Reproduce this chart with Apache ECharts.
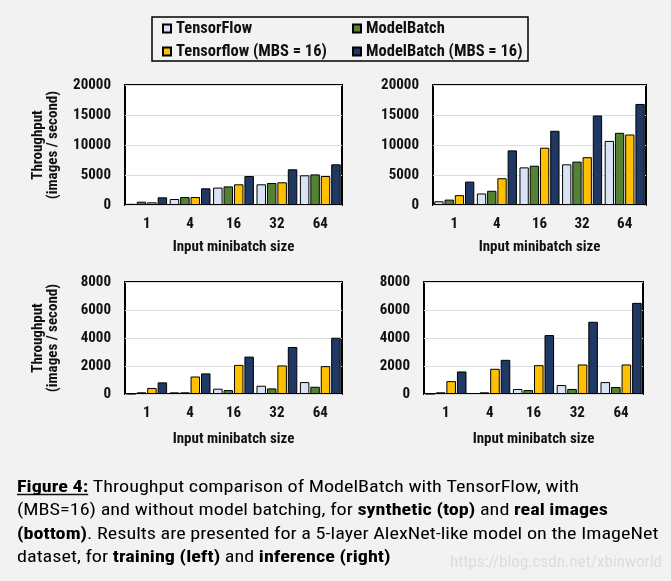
<!DOCTYPE html>
<html>
<head>
<meta charset="utf-8">
<script src="https://cdn.jsdelivr.net/npm/echarts@6/dist/echarts.min.js"></script>
<style>
html,body{margin:0;padding:0;background:#f2f2f2;}
#c{width:671px;height:581px;}
</style>
</head>
<body>
<div id="c"></div>
<script>
const categories = ['1', '4', '16', '32', '64'];
const seriesNames = ['TensorFlow', 'ModelBatch', 'Tensorflow (MBS = 16)', 'ModelBatch (MBS = 16)'];

// synthetic, training (top-left)
const synTrainTF    = [200, 1000, 2900, 3450, 4950];
const synTrainMB    = [550, 1330, 3100, 3670, 5100];
const synTrainTF16  = [450, 1330, 3450, 3780, 4830];
const synTrainMB16  = [1280, 2780, 4830, 5950, 6780];

// synthetic, inference (top-right)
const synInfTF      = [620, 1920, 6270, 6780, 10680];
const synInfMB      = [900, 2370, 6550, 7230, 12030];
const synInfTF16    = [1640, 4460, 9550, 7970, 11750];
const synInfMB16    = [3900, 9100, 12370, 14920, 16840];

// real images, training (bottom-left)
const realTrainTF   = [20, 120, 380, 590, 850];
const realTrainMB   = [120, 120, 280, 400, 520];
const realTrainTF16 = [430, 1250, 2080, 2040, 1990];
const realTrainMB16 = [830, 1470, 2670, 3360, 4020];

// real images, inference (bottom-right)
const realInfTF     = [20, 70, 360, 640, 850];
const realInfMB     = [120, 120, 280, 360, 500];
const realInfTF16   = [920, 1800, 2060, 2110, 2110];
const realInfMB16   = [1610, 2440, 4210, 5160, 6510];

const yMaxTop = 20000, yIntTop = 5000;
const yMaxBot = 8000, yIntBot = 2000;

const FONT = "'Roboto Condensed', 'Liberation Sans Narrow', 'DejaVu Sans Condensed', sans-serif";
const colors = ['#dae3f3', '#548235', '#ffc000', '#203864'];

const panels = [
  {data: [synTrainTF, synTrainMB, synTrainTF16, synTrainMB16], max: yMaxTop, interval: yIntTop,
   grid: {left: 125, top: 85, width: 217, height: 120}, yName: true, nameGap: 35},
  {data: [synInfTF, synInfMB, synInfTF16, synInfMB16], max: yMaxTop, interval: yIntTop,
   grid: {left: 433, top: 85, width: 213, height: 120}, yName: false, nameGap: 35},
  {data: [realTrainTF, realTrainMB, realTrainTF16, realTrainMB16], max: yMaxBot, interval: yIntBot,
   grid: {left: 125, top: 282, width: 217, height: 112}, yName: true, nameGap: 38},
  {data: [realInfTF, realInfMB, realInfTF16, realInfMB16], max: yMaxBot, interval: yIntBot,
   grid: {left: 424, top: 282, width: 219, height: 112}, yName: false, nameGap: 38}
];

const grids = [], xAxes = [], yAxes = [], series = [];
panels.forEach((p, i) => {
  grids.push(Object.assign({show: true, backgroundColor: '#ffffff', borderColor: '#000', borderWidth: 2, containLabel: false}, p.grid));
  xAxes.push({
    type: 'category', gridIndex: i, data: categories,
    axisLine: {show: false}, axisTick: {show: false},
    axisLabel: {fontFamily: FONT, fontWeight: 'bold', fontSize: 15, color: '#111', margin: 12},
    name: 'Input minibatch size', nameLocation: 'middle', nameGap: p.nameGap,
    nameTextStyle: {fontFamily: FONT, fontWeight: 'bold', fontSize: 15, color: '#111'}
  });
  yAxes.push({
    type: 'value', gridIndex: i, min: 0, max: p.max, interval: p.interval,
    axisLine: {show: false}, axisTick: {show: false},
    splitLine: {show: true, lineStyle: {color: '#dcdcdc', width: 1}},
    axisLabel: {fontFamily: FONT, fontWeight: 'bold', fontSize: 15, color: '#111', margin: 14,
                formatter: v => String(v)},
    name: p.yName ? 'Throughput\n(images / second)' : '',
    nameLocation: 'middle', nameGap: 64, nameRotate: 90,
    nameTextStyle: {fontFamily: FONT, fontWeight: 'bold', fontSize: 15, color: '#111', lineHeight: 15}
  });
  p.data.forEach((arr, k) => {
    series.push({
      type: 'bar', name: seriesNames[k], xAxisIndex: i, yAxisIndex: i, data: arr,
      barGap: '10%', barCategoryGap: '6%',
      itemStyle: {color: colors[k], borderColor: '#000', borderWidth: 1},
      emphasis: {disabled: true}
    });
  });
});

const legendPos = [
  {left: 162, top: 20}, {left: 352, top: 20},
  {left: 162, top: 43}, {left: 352, top: 43}
];
const legends = seriesNames.map((n, k) => ({
  data: [n], left: legendPos[k].left, top: legendPos[k].top, padding: 0,
  icon: 'rect', itemWidth: 8, itemHeight: 8, selectedMode: false,
  textStyle: {fontFamily: FONT, fontWeight: 'bold', fontSize: 16.5, color: '#111'}
}));

// caption text, fitted horizontally to the reference's line width
const capSize = 17;
const measureCtx = document.createElement('canvas').getContext('2d');
function tw(text, bold) {
  measureCtx.font = (bold ? 'bold ' : '') + capSize + 'px ' + FONT;
  return measureCtx.measureText(text).width;
}
const figLabel = 'Figure 4:';
const line1Rest = ' Throughput comparison of ModelBatch with TensorFlow, with';
const capScale = 562 / (tw(figLabel, true) + tw(line1Rest, false));
const watermark = 'https://blog.csdn.net/xbinworld';
const wmScale = 212 / tw(watermark, false);

const rich = {
  n: {fontFamily: FONT, fontSize: capSize, color: '#111'},
  b: {fontFamily: FONT, fontSize: capSize, fontWeight: 'bold', color: '#111'}
};
const captionLines = [
  '{b|' + figLabel + '}{n|' + line1Rest + '}',
  '{n|(MBS=16) and without model batching, for }{b|synthetic (top)}{n| and }{b|real images}',
  '{b|(bottom)}{n|. Results are presented for a 5-layer AlexNet-like model on the ImageNet}',
  '{n|dataset, for }{b|training (left)}{n| and }{b|inference (right)}'
];
const captionTops = [479, 502.5, 526.5, 549.5];

const graphics = [
  {type: 'rect', shape: {x: 152, y: 17, width: 376, height: 44},
   style: {fill: 'none', stroke: '#000', lineWidth: 1.5}, z: 1},
  {type: 'text', x: 450, y: 554, scaleX: wmScale, z: 0,
   style: {text: watermark, fontFamily: FONT, fontSize: capSize, fill: '#dcdcdc'}}
];
captionLines.forEach((t, i) => {
  graphics.push({type: 'text', x: 17, y: captionTops[i], scaleX: capScale, z: 2,
    style: {text: t, rich: rich}});
});
graphics.push({type: 'line', shape: {x1: 17, y1: 494.5, x2: 17 + tw(figLabel, true) * capScale, y2: 494.5},
  style: {stroke: '#111', lineWidth: 1.3}});

const chart = echarts.init(document.getElementById('c'), null, {renderer: 'canvas'});
chart.setOption({
  backgroundColor: '#f2f2f2',
  animation: false,
  legend: legends,
  grid: grids,
  xAxis: xAxes,
  yAxis: yAxes,
  series: series,
  graphic: graphics
});
</script>
</body>
</html>
